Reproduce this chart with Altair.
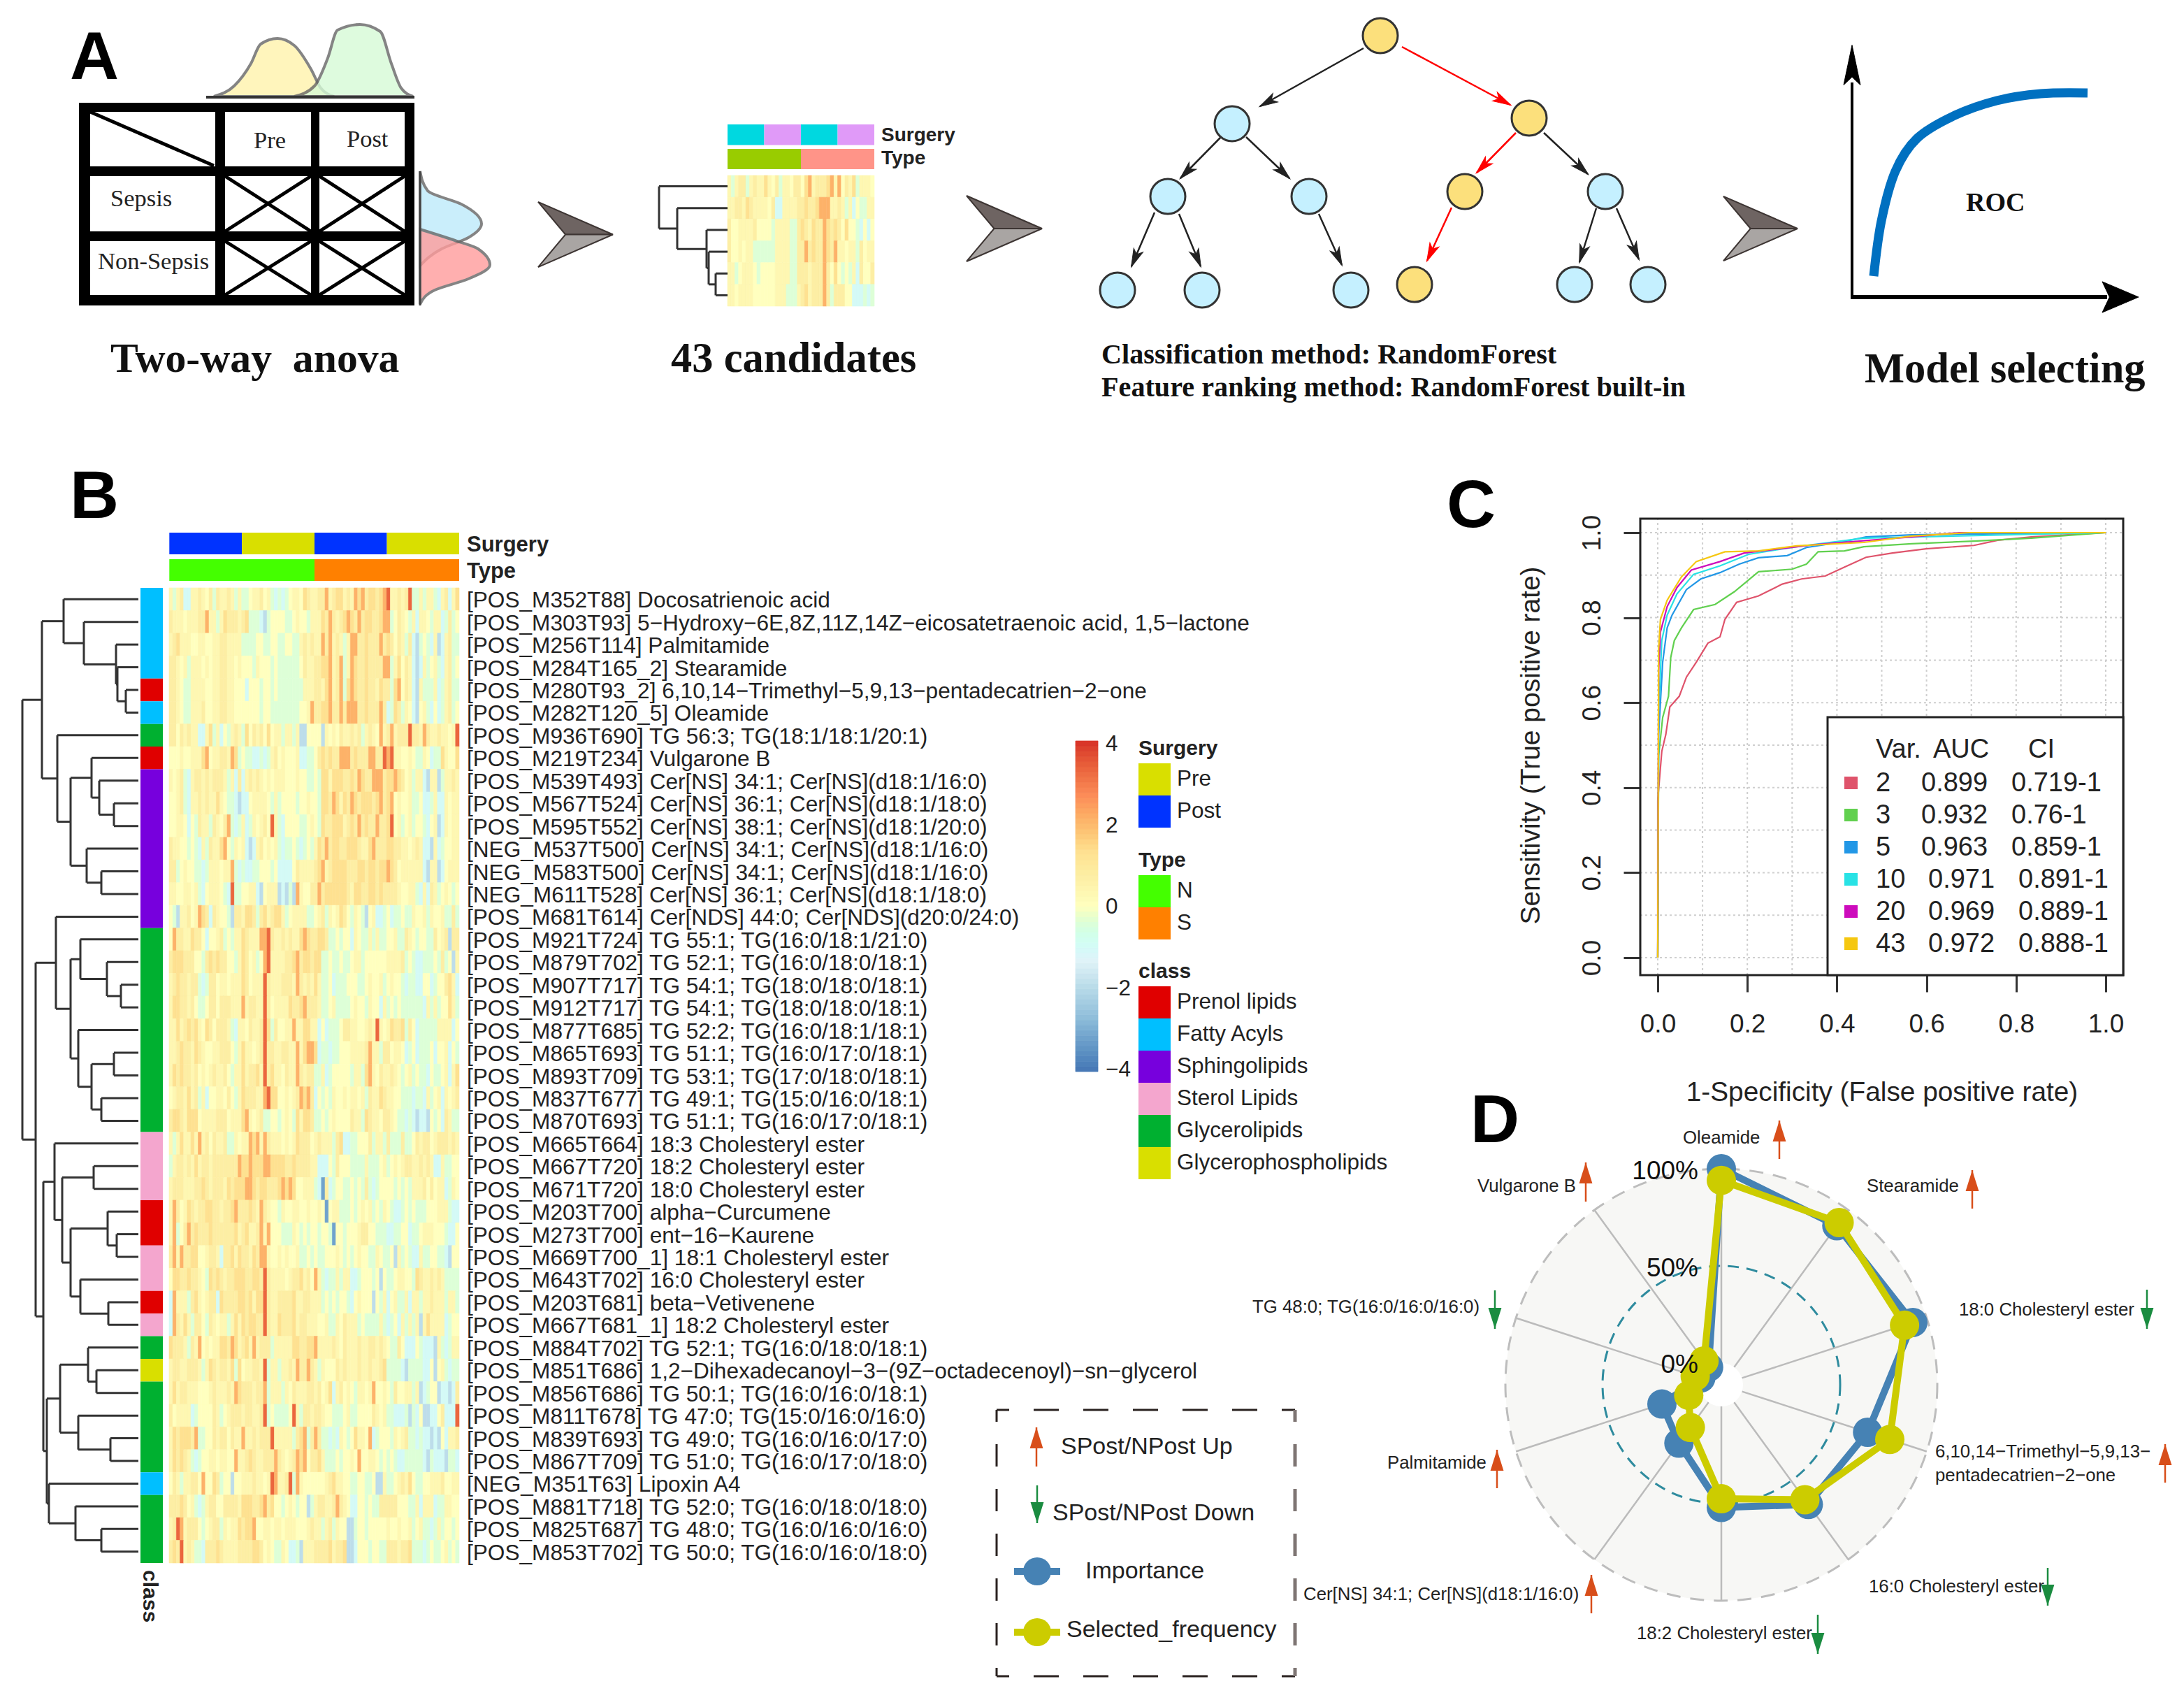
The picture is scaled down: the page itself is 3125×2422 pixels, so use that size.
import math
import altair as alt
import pandas as pd

SANS = "Liberation Sans"
SERIF = "Liberation Serif"
INK = "#222222"

# ---------- panel B data ----------
ROW_LABELS = [
 "[POS_M352T88] Docosatrienoic acid",
 "[POS_M303T93] 5−Hydroxy−6E,8Z,11Z,14Z−eicosatetraenoic acid, 1,5−lactone",
 "[POS_M256T114] Palmitamide",
 "[POS_M284T165_2] Stearamide",
 "[POS_M280T93_2] 6,10,14−Trimethyl−5,9,13−pentadecatrien−2−one",
 "[POS_M282T120_5] Oleamide",
 "[POS_M936T690] TG 56:3; TG(18:1/18:1/20:1)",
 "[POS_M219T234] Vulgarone B",
 "[POS_M539T493] Cer[NS] 34:1; Cer[NS](d18:1/16:0)",
 "[POS_M567T524] Cer[NS] 36:1; Cer[NS](d18:1/18:0)",
 "[POS_M595T552] Cer[NS] 38:1; Cer[NS](d18:1/20:0)",
 "[NEG_M537T500] Cer[NS] 34:1; Cer[NS](d18:1/16:0)",
 "[NEG_M583T500] Cer[NS] 34:1; Cer[NS](d18:1/16:0)",
 "[NEG_M611T528] Cer[NS] 36:1; Cer[NS](d18:1/18:0)",
 "[POS_M681T614] Cer[NDS] 44:0; Cer[NDS](d20:0/24:0)",
 "[POS_M921T724] TG 55:1; TG(16:0/18:1/21:0)",
 "[POS_M879T702] TG 52:1; TG(16:0/18:0/18:1)",
 "[POS_M907T717] TG 54:1; TG(18:0/18:0/18:1)",
 "[POS_M912T717] TG 54:1; TG(18:0/18:0/18:1)",
 "[POS_M877T685] TG 52:2; TG(16:0/18:1/18:1)",
 "[POS_M865T693] TG 51:1; TG(16:0/17:0/18:1)",
 "[POS_M893T709] TG 53:1; TG(17:0/18:0/18:1)",
 "[POS_M837T677] TG 49:1; TG(15:0/16:0/18:1)",
 "[POS_M870T693] TG 51:1; TG(16:0/17:0/18:1)",
 "[POS_M665T664] 18:3 Cholesteryl ester",
 "[POS_M667T720] 18:2 Cholesteryl ester",
 "[POS_M671T720] 18:0 Cholesteryl ester",
 "[POS_M203T700] alpha−Curcumene",
 "[POS_M273T700] ent−16−Kaurene",
 "[POS_M669T700_1] 18:1 Cholesteryl ester",
 "[POS_M643T702] 16:0 Cholesteryl ester",
 "[POS_M203T681] beta−Vetivenene",
 "[POS_M667T681_1] 18:2 Cholesteryl ester",
 "[POS_M884T702] TG 52:1; TG(16:0/18:0/18:1)",
 "[POS_M851T686] 1,2−Dihexadecanoyl−3−(9Z−octadecenoyl)−sn−glycerol",
 "[POS_M856T686] TG 50:1; TG(16:0/16:0/18:1)",
 "[POS_M811T678] TG 47:0; TG(15:0/16:0/16:0)",
 "[POS_M839T693] TG 49:0; TG(16:0/16:0/17:0)",
 "[POS_M867T709] TG 51:0; TG(16:0/17:0/18:0)",
 "[NEG_M351T63] Lipoxin A4",
 "[POS_M881T718] TG 52:0; TG(16:0/18:0/18:0)",
 "[POS_M825T687] TG 48:0; TG(16:0/16:0/16:0)",
 "[POS_M853T702] TG 50:0; TG(16:0/16:0/18:0)",
]
CLASS_NAMES = ["Prenol lipids", "Fatty Acyls", "Sphingolipids", "Sterol Lipids", "Glycerolipids", "Glycerophospholipids"]
CLASS_COLORS = ["#E00000", "#00BFFF", "#7700DD", "#F4A6CE", "#00B030", "#D9DF00"]
ROW_CLASS = [1,1,1,1,0,1,4,0,2,2,2,2,2,2,2,4,4,4,4,4,4,4,4,4,3,3,3,0,0,3,3,0,3,4,5,4,4,4,4,1,4,4,4]

# one digit per sample; HEAT_LEVEL gives the z value of a digit
HEAT_LEVEL = {"0": -3.2, "1": -1.9, "2": -1.0, "3": -0.4, "4": 0.0, "5": 0.35, "6": 0.75, "7": 1.3, "8": 2.1, "9": 3.3}
HEAT = [
 "5356225565 4636556535 3345564532 3234554765 5668567756 5878677678 9556569335 3553256257",
 "6555455566 8553576665 6733321344 4433454435 5576865678 7686776678 8346543525 5435523634",
 "5675554455 4455665555 3333443344 3344335656 5586856535 8866766686 7646536213 4325125633",
 "6654535554 5455665545 4443544434 3333334655 6677856835 8766766668 8357465212 5345325634",
 "6654335555 4455665544 4244434434 3333333555 6657856837 8766766576 6378465215 3335235633",
 "6654335556 4455665544 4444434433 3333334458 6677866868 8866766686 2376354214 5324235634",
 "6646565522 5735243565 3746564745 5355351144 4415454655 6563565485 6856669665 8655655459",
 "4445445557 8455665873 4332232356 4544452233 4676766888 6766688669 8955445433 5423375447",
 "5456325665 6566653526 2565654545 5544454433 4377577766 7687668886 7787645355 2155135565",
 "4456325565 6557543321 2245555435 3444434454 4377687576 8767776786 7845445334 2235225455",
 "4455424365 5365468323 5235456495 3244443345 4376677756 7686766866 7945345344 3245125455",
 "6554434325 3655784354 5212564545 3233432343 5768677667 7765578666 7766554565 2215234455",
 "6634544332 3555455832 3223344434 2222465555 6785677776 6677677677 8764555555 2155124555",
 "5544554532 4555432933 4455214555 1213185446 6867777776 5776677676 6665445532 5265345434",
 "4315564587 6265443166 5776367567 7534555533 4563545764 3543145223 4233433544 5354453363",
 "4866557664 2445634355 7655588965 5656557876 6776334344 2543353533 4453365434 4336456166",
 "6777666443 6767664435 7645348955 5566786776 7733433433 4553444444 5555634322 3334363415",
 "5676656632 3664554555 7645559655 5666586565 7533423334 4433454453 4544323322 4423446752",
 "5776656433 4664666555 8566559645 5557667866 6533453333 4544354425 3434333333 2535344753",
 "5575676754 7646665325 5465569736 4455855775 5242333466 5544565954 5766736423 3333555524",
 "5567665765 4455666435 7554569665 5665585788 7233233444 5555685536 6455423423 3342445243",
 "5767665645 4565564355 7566759675 5465586566 3352344444 3553785465 5654345343 3243345257",
 "4566575635 2445546435 7666558977 4454568786 2434354454 5545365576 5544333233 2534525456",
 "6776577745 5556664555 7854563344 3454375776 3343454444 6553765546 6543323212 2143426533",
 "5357557585 6465563354 5587858655 5454576664 5655536722 3344463553 6333633465 6645666565",
 "3566565756 6566666668 7787778877 7766766665 5222436444 3333533345 3454566556 5652253344",
 "5666555667 6566657677 7887677666 7878744555 3206234433 4343632344 4434343555 6464552354",
 "5864576566 7766566786 6676586544 3544554454 4540455333 4345453435 4322343433 3444555322",
 "5834686766 6766666675 6755685844 4333543434 4344304434 4456644333 2233442334 5554443224",
 "6858667744 5665266757 6657688544 5454453343 4334445434 3454433543 3415343225 3344332144",
 "4776676654 3767656677 7667769655 5545667564 8532335355 2234443414 3345544376 5565653333",
 "2855536754 5662766667 7675779655 6666755665 5534343443 2454441435 2453352553 5565553553",
 "2865753664 3654553575 7677669655 7666756655 5445335465 5534333353 2342535351 5755552344",
 "7666536584 5455776875 6758566635 5555776677 8555565465 5565566565 4336422243 2221532355",
 "5665566653 5765665737 4556659355 3556586686 5354446565 5565565567 3333213333 2241453233",
 "5756655544 4565556587 6665668355 5354655566 5645725645 4355458445 4364455351 2344122126",
 "6455552344 4465345666 5665569343 3334953665 6654433345 3344446545 3322231324 1122462229",
 "5767776833 4465664655 8556566695 5555367836 8633232543 4755482344 4354563323 2212142556",
 "5767653234 4554554485 5676556668 6545687846 6753334344 5484455434 3432233333 2132221332",
 "4653556648 4476344144 5556554598 5569385444 4445675544 3344334115 3345657433 4455564455",
 "6667645323 5664466665 7776678674 4345434413 5665568654 2244343366 6664443352 5552335544",
 "5698566643 4566354557 6778445545 5455544456 5535635441 1344344444 5445445345 3323534434",
 "6769565332 6667655556 6667764543 3542231555 6666756671 1244434433 6665667333 2343345343",
]
COLORBAR_TICKS = [4, 2, 0, -2, -4]
COLORBAR_LABELS = ["4", "2", "0", "−2", "−4"]

# ---------- panel A heat map data ----------
MINI_HEAT = [
 "5356635655 7546355466 4785666785 8465735554",
 "5566576555 5462255556 6766788855 6535243355",
 "6445555644 4435555336 7657668767 6474432424",
 "6445455333 3335555336 6867668768 5545536455",
 "5534555434 4445555336 6656668647 4343526446",
 "5545555444 4445553335 6756668636 6644222323",
]
MINI_SURGERY = ["#00D8E0", "#E09AF8", "#00D8E0", "#E09AF8"]
MINI_TYPE = ["#99CC00", "#FF9488"]

# ---------- panel C data ----------
ROC_SERIES = ["2", "3", "5", "10", "20", "43"]
ROC_COLORS = ["#DF536B", "#61D04F", "#2297E6", "#28E2E5", "#CD0BBC", "#F5C710"]
ROC_AUC = ["0.899", "0.932", "0.963", "0.971", "0.969", "0.972"]
ROC_CI = ["0.719-1", "0.76-1", "0.859-1", "0.891-1", "0.889-1", "0.888-1"]
ROC_X = [
 [0,0,.009,.018,.027,.048,.064,.086,.112,.139,.15,.176,.225,.278,.321,.374,.417,.465,.524,.599,.706,.759,.834,1],
 [0,.002,.011,.024,.029,.037,.053,.080,.128,.171,.225,.300,.332,.358,.417,.460,.567,.706,.834,1],
 [0,.002,.011,.021,.032,.064,.096,.139,.182,.225,.289,.332,.406,.465,.567,1],
 [0,.002,.009,.021,.043,.080,.139,.203,.31,.46,1],
 [0,.002,.006,.021,.043,.075,.139,.193,.353,.567,.674,1],
 [0,.002,.006,.021,.053,.086,.15,.225,.31,.46,.567,.695,1],
]
ROC_Y = [
 [0,.37,.485,.525,.59,.615,.66,.695,.74,.755,.796,.836,.851,.879,.891,.898,.919,.942,.952,.962,.97,.982,.99,1],
 [0,.475,.565,.615,.706,.746,.776,.819,.831,.861,.908,.914,.926,.955,.957,.967,.974,.98,.987,1],
 [0,.525,.695,.776,.806,.866,.891,.906,.926,.941,.946,.965,.977,.99,.995,1],
 [0,.575,.746,.806,.856,.902,.922,.949,.967,.987,1],
 [0,.675,.766,.826,.871,.912,.932,.952,.972,.99,1,1],
 [0,.726,.796,.841,.896,.932,.955,.957,.969,.977,.992,1,1],
]
GRID_STEPS = [0, .1, .2, .3, .4, .5, .6, .7, .8, .9, 1]

# ---------- panel D data ----------
RADAR_IMPORTANCE = [1.0, .90, .925, .68, .65, .52, .26, .21, .0, .0]
RADAR_FREQUENCY = [.94, .92, .88, .80, .62, .475, .16, .065, .03, .04]

# ---------- helpers ----------
PX = alt.Scale(domain=[8, 3117], range=[0, 3109], nice=False, zero=False)
PY = alt.Scale(domain=[8, 2414], range=[0, 2406], nice=False, zero=False)
X = alt.X("x:Q", scale=PX, axis=None)
Y = alt.Y("y:Q", scale=PY, axis=None)
layers = []

def segs(rows, **kw):
    df = pd.DataFrame(rows, columns=["x", "y", "x2", "y2", "c", "w"])
    layers.append(alt.Chart(df).mark_rule(**kw).encode(
        x=X, y=Y, x2="x2:Q", y2="y2:Q",
        color=alt.Color("c:N", scale=None), strokeWidth=alt.StrokeWidth("w:Q", scale=None)))

def rects(rows, **kw):
    df = pd.DataFrame(rows, columns=["x", "y", "x2", "y2", "c"])
    layers.append(alt.Chart(df).mark_rect(**kw).encode(
        x=X, y=Y, x2="x2:Q", y2="y2:Q", color=alt.Color("c:N", scale=None)))

def glyphs(rows):
    df = pd.DataFrame(rows, columns=["x", "y", "s", "f", "st", "sw", "sh", "a"])
    layers.append(alt.Chart(df).mark_point(filled=True, opacity=1).encode(
        x=X, y=Y, size=alt.Size("s:Q", scale=None),
        fill=alt.Fill("f:N", scale=None), stroke=alt.Stroke("st:N", scale=None),
        strokeWidth=alt.StrokeWidth("sw:Q", scale=None),
        shape=alt.Shape("sh:N", scale=None), angle=alt.Angle("a:Q", scale=None)))

def texts(rows, font=SANS, size=30, weight="normal", color=INK, align="left", baseline="alphabetic", **kw):
    df = pd.DataFrame(rows, columns=["t", "x", "y"])
    layers.append(alt.Chart(df).mark_text(font=font, fontSize=size, fontWeight=weight, color=color,
                                          align=align, baseline=baseline, **kw).encode(x=X, y=Y, text="t:N"))

def heat_scale():
    return alt.Scale(type="linear", domain=[-4, -2.67, -1.33, 0, 1.33, 2.67, 4],
                     range=["#4575B4", "#91BFDB", "#E0F3F8", "#FFFFBF", "#FEE090", "#FC8D59", "#D73027"])

def heat_layer(rows, x0, x1, y0, y1):
    cleaned = [r.replace(" ", "") for r in rows]
    ncol = max(len(r) for r in cleaned)
    recs = []
    for i, r in enumerate(cleaned):
        for j, ch in enumerate(r.ljust(ncol, "4")):
            recs.append({"r": i, "k": j, "v": HEAT_LEVEL[ch]})
    df = pd.DataFrame(recs)
    sx = alt.Scale(type="band", domain=list(range(ncol)), range=[x0 - 8, x1 - 8], paddingInner=0, paddingOuter=0)
    sy = alt.Scale(type="band", domain=list(range(len(rows))), range=[y0 - 8, y1 - 8], paddingInner=0, paddingOuter=0)
    layers.append(alt.Chart(df).mark_rect(strokeWidth=0.6).encode(
        x=alt.X("k:O", scale=sx, axis=None), y=alt.Y("r:O", scale=sy, axis=None),
        color=alt.Color("v:Q", scale=heat_scale(), legend=None),
        stroke=alt.Stroke("v:Q", scale=heat_scale(), legend=None)))

def dendro(tree, leaf_x, y0, y1, nrow, color="#333333", width=3):
    out = []
    def walk(n):
        if isinstance(n, int):
            return leaf_x, n + .5
        h, a, b = n
        xa, ya = walk(a)
        xb, yb = walk(b)
        out.extend([(h, ya, h, yb), (h, ya, xa, ya), (h, yb, xb, yb)])
        return h, (ya + yb) / 2
    walk(tree)
    df = pd.DataFrame(out, columns=["x", "y", "x2", "y2"])
    sy = alt.Scale(domain=[0, nrow], range=[y0 - 8, y1 - 8], nice=False, zero=False)
    layers.append(alt.Chart(df).mark_rule(color=color, strokeWidth=width).encode(
        x=X, x2="x2:Q", y=alt.Y("y:Q", scale=sy, axis=None), y2="y2:Q"))

def legend_rects(rows, domain, colors, title, lx, ly):
    df = pd.DataFrame(rows, columns=["x", "y", "x2", "y2", "g"])
    layers.append(alt.Chart(df).mark_rect().encode(
        x=X, y=Y, x2="x2:Q", y2="y2:Q",
        color=alt.Color("g:N", scale=alt.Scale(domain=domain, range=colors), legend=alt.Legend(
            title=title, orient="none", legendX=lx - 8, legendY=ly - 8, symbolType="square",
            symbolSize=2116, symbolStrokeWidth=0, symbolOpacity=1, labelFont=SANS, labelFontSize=31.5, labelColor=INK,
            labelOffset=9, rowPadding=0, titleFont=SANS, titleFontSize=30, titleFontWeight="bold",
            titleColor=INK, titlePadding=6, labelLimit=500, titleLimit=400))))

# ---------- panel A: table and densities ----------
DENS_TOP = [
 ("#FFF3AC", [306,335,359,373,397,421,445,459,478], [138,123,91,63,55,65,99,126,138]),
 ("#D6FBD6", [421,450,469,483,515,544,560,574,591], [138,123,83,43,35,45,91,126,138]),
]
for col, xs, ys in DENS_TOP:
    df = pd.DataFrame({"x": xs, "y": ys, "y2": [138] * len(xs)})
    layers.append(alt.Chart(df).mark_area(interpolate="monotone", fill=col, opacity=.8, stroke="#666666", strokeWidth=4).encode(
        x=X, y=Y, y2="y2:Q"))
DENS_RIGHT = [
 ("#BEEBFB", [245,273,292,320,340,356,380], [601,612,660,689,670,632,601]),
 ("#FF9C9C", [328,344,356,379,399,415,435], [601,651,684,701,670,622,601]),
]
for col, ys, xs in DENS_RIGHT:
    df = pd.DataFrame({"y": ys, "x": xs, "x2": [601] * len(xs)})
    layers.append(alt.Chart(df).mark_area(orient="horizontal", interpolate="monotone", fill=col, opacity=.8, stroke="#666666", strokeWidth=4).encode(
        x=X, x2="x2:Q", y=Y))

rects([
 (113,147,593,160,"#000000"), (113,422,593,437,"#000000"), (113,147,129,437,"#000000"), (579,147,593,437,"#000000"),
 (308,147,322,437,"#000000"), (445,147,457,437,"#000000"), (113,238,593,252,"#000000"), (113,331,593,345,"#000000"),
 (295,137,593,141,"#333333"),
])
TABLE_CELLS = [(322,252,445,331), (457,252,579,331), (322,345,445,422), (457,345,579,422)]
table_lines = [(129,160,306,237,"#000000",5)]
for a, b, c, d in TABLE_CELLS:
    table_lines += [(a,b,c,d,"#000000",5), (a,d,c,b,"#000000",5)]
table_lines.append((601,245,601,437,"#444444",3))
segs(table_lines)

# chevrons between the steps
CHEV_TOP = "M1,0 L-1,-0.87 L-0.27,0 Z"
CHEV_BOT = "M1,0 L-0.27,0 L-1,0.87 Z"
CHEVRONS = [(823.5, 335.5, 107), (1437, 327, 108), (2519, 327, 106)]
chev = []
for cx, cy, w in CHEVRONS:
    chev.append((cx, cy, w * w, "#6E6462", "#3D3533", 2, CHEV_TOP, 0))
    chev.append((cx, cy, w * w, "#A9A5A3", "#3D3533", 2, CHEV_BOT, 0))
glyphs(chev)

# mini heat map
heat_layer(MINI_HEAT, 1041, 1251, 251, 438)
rects([(1041 + 52.5 * i, 178, 1041 + 52.5 * (i + 1), 207.5, c) for i, c in enumerate(MINI_SURGERY)] +
      [(1041 + 105 * i, 213, 1041 + 105 * (i + 1), 242, c) for i, c in enumerate(MINI_TYPE)])
dendro((943, 0, (969, 1, (1011, 2, (1014, 3, (1024, 4, 5))))), 1041, 251, 438, 6, width=3)

# decision tree
BRANCHES = [
 ((1951,69),(1803,152),"#222222"), ((2006,67),(2161,150),"#FF0000"), ((1747,196),(1689,255),"#222222"),
 ((1783,196),(1845,255),"#222222"), ((2169,190),(2113,247),"#FF0000"), ((2209,190),(2272,249),"#222222"),
 ((1652,304),(1619,381),"#222222"), ((1687,306),(1718,381),"#222222"), ((1887,306),(1920,379),"#222222"),
 ((2077,297),(2042,373),"#FF0000"), ((2284,298),(2260,375),"#222222"), ((2313,298),(2345,371),"#222222"),
]
NODES_YELLOW = [(1975,51),(2188,169),(2096,274),(2024,407)]
NODES_BLUE = [(1763,177),(1671,281),(1873,281),(2297,274),(1599,415),(1720,415),(1933,415),(2253,407),(2358,407)]
segs([(a[0],a[1],b[0],b[1],c,2.5) for a,b,c in BRANCHES])
BARB = "M0,-1 L0.55,1 L0,0.5 L-0.55,1 Z"
heads = []
for a, b, c in BRANCHES:
    dx, dy = b[0]-a[0], b[1]-a[1]
    L = math.hypot(dx, dy)
    heads.append((b[0]-dx/L*12, b[1]-dy/L*12, 26*26, c, c, 1, BARB, math.degrees(math.atan2(dx, -dy)) % 360))
glyphs(heads)
glyphs([(x,y,2500,"#FCE07C","#333333",3,"circle",0) for x,y in NODES_YELLOW] +
       [(x,y,2500,"#C5F0FF","#333333",3,"circle",0) for x,y in NODES_BLUE])

# little ROC sketch
segs([(2650,118,2650,428,"#000000",4), (2648,425,3015,425,"#000000",6)])
glyphs([(2650,93,57*57,"#000000","#000000",1,"M0,-1 L0.42,1 L0,0.6 L-0.42,1 Z",0),
        (3034,425,52*52,"#000000","#000000",1,"M0,-1 L0.85,1 L0,0.6 L-0.85,1 Z",90)])
SK_X = [2681,2692,2712,2743,2795,2857,2920,2987]
SK_Y = [395,316,245,198,166,144,134,133]
layers.append(alt.Chart(pd.DataFrame({"x": SK_X, "y": SK_Y})).mark_line(interpolate="cardinal", color="#0070C0", strokeWidth=13).encode(x=X, y=Y))

# ---------- panel B ----------
heat_layer(HEAT, 242, 657, 841, 2236)

# colour bar, drawn with the same colour scale as the heat map
bar_low = [i / 8 for i in range(-32, 32)]
bar_df = pd.DataFrame({"low": bar_low, "high": [v + .125 for v in bar_low], "mid": [v + .0625 for v in bar_low],
                       "x": [1539] * 64, "x2": [1571] * 64})
layers.append(alt.Chart(bar_df).mark_rect(strokeWidth=0.8).encode(
    x=X, x2="x2:Q",
    y=alt.Y("low:Q", scale=alt.Scale(domain=[-4, 4], range=[1525, 1052], nice=False, zero=False), axis=None),
    y2="high:Q",
    color=alt.Color("mid:Q", scale=heat_scale(), legend=None),
    stroke=alt.Stroke("mid:Q", scale=heat_scale(), legend=None)))
bar_tick_df = pd.DataFrame({"t": COLORBAR_LABELS, "v": COLORBAR_TICKS, "x": [1582] * 5})
layers.append(alt.Chart(bar_tick_df).mark_text(font=SANS, fontSize=31.5, color=INK, align="left", baseline="middle").encode(
    x=X, y=alt.Y("v:Q", scale=alt.Scale(domain=[-4, 4], range=[1523, 1057], nice=False, zero=False), axis=None), text="t:N"))

SURG_EDGE = [242.3, 346, 450, 553.6, 657]
SURG_GROUP = ["Post", "Pre", "Post", "Pre"]
legend_rects([(SURG_EDGE[i], 762, SURG_EDGE[i+1], 793, g) for i, g in enumerate(SURG_GROUP)],
             ["Pre", "Post"], ["#D9DF00", "#0033FF"], "Surgery", 1629, 1056)
legend_rects([(242.3, 800, 450, 831, "N"), (450, 800, 657, 831, "S")],
             ["N", "S"], ["#44FF00", "#FF8000"], "Type", 1629, 1216)
ROW_H = (2236 - 841) / 43
class_rows = []
start = 0
for i in range(1, 44):
    if i == 43 or ROW_CLASS[i] != ROW_CLASS[start]:
        class_rows.append((201, 841 + start * ROW_H, 233, 841 + i * ROW_H, CLASS_NAMES[ROW_CLASS[start]]))
        start = i
legend_rects(class_rows, CLASS_NAMES, CLASS_COLORS, "class", 1629, 1375)

def n(h, a, b):
    return (h, a, b)
TREE_B = n(32,
  n(60, n(91, 0, n(120, 1, n(166, 2, n(168, 3, n(180, 4, 5))))),
        n(82, 6, n(101, n(131, 7, n(142, 8, n(163, 9, 10))), n(124, 11, n(145, 12, 13))))),
  n(51, n(80, 14, n(101, n(115, 15, n(153, 16, n(173, 17, 18))),
                          n(112, 19, n(131, n(163, 20, 21), n(145, 22, 23))))),
        n(62, n(78, 24, n(89, n(134, 25, 26),
                              n(101, n(154, 27, n(167, 28, 29)), n(115, 30, n(155, 31, 32))))),
              n(67, n(86, n(126, 33, n(138, 34, 35)), n(112, 36, n(158, 37, 38))),
                    n(70, 39, n(108, 40, n(145, 41, 42)))))))
dendro(TREE_B, 198, 841, 2236, 43, width=3)

row_df = pd.DataFrame({"t": ROW_LABELS, "x": [668] * 43, "y": [i + .5 for i in range(43)]})
layers.append(alt.Chart(row_df).mark_text(font=SANS, fontSize=31.6, color=INK, align="left", baseline="middle").encode(
    x=X, y=alt.Y("y:Q", scale=alt.Scale(domain=[0, 43], range=[836, 2231], nice=False, zero=False), axis=None), text="t:N"))

# ---------- panel C ----------
CX = alt.Scale(domain=[0, 1], range=[2364, 3005], nice=False, zero=False)
CY = alt.Scale(domain=[0, 1], range=[1362, 754], nice=False, zero=False)
rects([(2347, 742, 3038, 1395, "#FFFFFF")])
grid_v = pd.DataFrame({"x": GRID_STEPS, "y": [-.041] * 11, "y2": [1.033] * 11})
grid_h = pd.DataFrame({"y": GRID_STEPS, "x": [-.039] * 11, "x2": [1.039] * 11})
gcx = alt.X("x:Q", scale=CX, axis=None)
gcy = alt.Y("y:Q", scale=CY, axis=None)
layers.append(alt.Chart(grid_v).mark_rule(color="#CFCFCF", strokeWidth=2, strokeDash=[3, 4]).encode(x=gcx, y=gcy, y2="y2:Q"))
layers.append(alt.Chart(grid_h).mark_rule(color="#CFCFCF", strokeWidth=2, strokeDash=[3, 4]).encode(x=gcx, x2="x2:Q", y=gcy))
roc_rows = []
for name, xs, ys in zip(ROC_SERIES, ROC_X, ROC_Y):
    for i, (a, b) in enumerate(zip(xs, ys)):
        roc_rows.append({"fpr": a, "tpr": b, "series": name, "i": i})
layers.append(alt.Chart(pd.DataFrame(roc_rows)).mark_line(strokeWidth=2.2).encode(
    x=alt.X("fpr:Q", scale=CX, axis=alt.Axis(
        values=[0, .2, .4, .6, .8, 1], format=".1f", domain=False, grid=False, offset=1387 - 2406, labelFlush=False,
        tickSize=24, tickWidth=3, tickColor="#333333", labelFont=SANS, labelFontSize=37, labelColor=INK, labelPadding=28,
        title="1-Specificity (False positive rate)", titleFont=SANS, titleFontSize=38.8, titleFontWeight="normal",
        titleColor=INK, titlePadding=60)),
    y=alt.Y("tpr:Q", scale=CY, axis=alt.Axis(
        values=[0, .2, .4, .6, .8, 1], format=".1f", domain=False, grid=False, offset=-2339, labelFlush=False,
        tickSize=24, tickWidth=3, tickColor="#333333", labelFont=SANS, labelFontSize=37, labelColor=INK, labelPadding=26,
        labelAngle=270, labelAlign="center", labelBaseline="bottom",
        title="Sensitivity (True positive rate)", titleFont=SANS, titleFontSize=39, titleFontWeight="normal",
        titleColor=INK, titlePadding=49)),
    color=alt.Color("series:N", scale=alt.Scale(domain=ROC_SERIES, range=ROC_COLORS), legend=None),
    order="i:Q", detail="series:N"))
layers.append(alt.Chart(pd.DataFrame([(2347, 742, 3038, 1395)], columns=["x", "y", "x2", "y2"])).mark_rect(
    fill="transparent", stroke="#222222", strokeWidth=3).encode(x=X, y=Y, x2="x2:Q", y2="y2:Q"))
layers.append(alt.Chart(pd.DataFrame([(2615, 1026, 3038, 1395)], columns=["x", "y", "x2", "y2"])).mark_rect(
    fill="#FFFFFF", stroke="#222222", strokeWidth=3).encode(x=X, y=Y, x2="x2:Q", y2="y2:Q"))
ROW0 = 1120
PITCH = 46
rects([(2639, ROW0 + i * PITCH - 9, 2658, ROW0 + i * PITCH + 9, c) for i, c in enumerate(ROC_COLORS)])
col_rows = [("Var.", 2684, 1073), ("AUC", 2766, 1073), ("CI", 2902, 1073)]
for i in range(6):
    shift = 10 if i >= 3 else 0
    yy = ROW0 + i * PITCH + 1
    col_rows += [(ROC_SERIES[i], 2684, yy), (ROC_AUC[i], 2749 + shift, yy), (ROC_CI[i], 2878 + shift, yy)]
texts(col_rows, size=38, baseline="middle")

# ---------- panel D ----------
RC = (2463, 1981)
def polar(k, v):
    t = math.radians(36 * k)
    r = 31 + 278 * v
    return RC[0] + r * math.sin(t), RC[1] - r * math.cos(t)

glyphs([(RC[0], RC[1], 618 * 618, "#F7F7F5", "#F7F7F5", 0, "circle", 0)])
layers.append(alt.Chart(pd.DataFrame({"x": [RC[0]], "y": [RC[1]]})).mark_point(
    shape="circle", size=618 * 618, stroke="#BDBDBD", strokeWidth=3, strokeDash=[20, 14], opacity=1).encode(x=X, y=Y))
layers.append(alt.Chart(pd.DataFrame({"x": [RC[0]], "y": [RC[1]]})).mark_point(
    shape="circle", size=340 * 340, stroke="#2E8B9E", strokeWidth=3, strokeDash=[16, 11], opacity=1).encode(x=X, y=Y))
segs([(*polar(k, 0), *polar(k, 1), "#BBBBBB", 2.5) for k in range(10)])
glyphs([(RC[0], RC[1], 62 * 62, "#FFFFFF", "#FFFFFF", 0, "circle", 0)])
for vals, col in ((RADAR_IMPORTANCE, "#4682B4"), (RADAR_FREQUENCY, "#CCCC00")):
    line = [polar(k, vals[k]) for k in list(range(10)) + [0]]
    df = pd.DataFrame({"x": [p[0] for p in line], "y": [p[1] for p in line], "i": list(range(11))})
    layers.append(alt.Chart(df).mark_line(color=col, strokeWidth=10).encode(x=X, y=Y, order="i:Q"))
    glyphs([(p[0], p[1], 42 * 42, col, col, 0, "circle", 0) for p in line[:-1]])

texts([("100%", 2430, 1687), ("50%", 2430, 1826), ("0%", 2430, 1964)], size=37, align="right", color="#111111")

RADAR_LABELS = [
 ("Oleamide", 2408, 1636), ("Vulgarone B", 2114, 1705), ("Stearamide", 2671, 1705),
 ("TG 48:0; TG(16:0/16:0/16:0)", 1792, 1878), ("18:0 Cholesteryl ester", 2803, 1882),
 ("6,10,14−Trimethyl−5,9,13−", 2769, 2085), ("pentadecatrien−2−one", 2769, 2119),
 ("Palmitamide", 1985, 2101), ("16:0 Cholesteryl ester", 2674, 2278),
 ("Cer[NS] 34:1; Cer[NS](d18:1/16:0)", 1865, 2289), ("18:2 Cholesteryl ester", 2342, 2345),
]
texts(RADAR_LABELS, size=25.8)

UP, DOWN = "#D84E1A", "#1A8C40"
UP_ARROWS = [(2546,1603,1658), (2269,1663,1719), (2822,1674,1729), (3098,2066,2121), (2142,2074,2129), (2277,2253,2308), (1483,2042,2098)]
DOWN_ARROWS = [(2139,1846,1901), (3072,1845,1901), (2930,2243,2297), (2601,2310,2366), (1484,2125,2179)]
HEAD_UP = "M0,-1 L0.63,1 L-0.63,1 Z"
HEAD_DOWN = "M0,1 L0.63,-1 L-0.63,-1 Z"
segs([(x, a, x, b, UP, 2.5) for x, a, b in UP_ARROWS] + [(x, a, x, b, DOWN, 2.5) for x, a, b in DOWN_ARROWS])
glyphs([(x, a + 15, 900, UP, UP, 0, HEAD_UP, 0) for x, a, b in UP_ARROWS] +
       [(x, b - 15, 900, DOWN, DOWN, 0, HEAD_DOWN, 0) for x, a, b in DOWN_ARROWS])

# dashed key box
for rows, dash, off in (
    ([(1426, 2017, 1853, 2017, "#2A2220", 3), (1426, 2398, 1853, 2398, "#2A2220", 3)], [36, 35], 18),
    ([(1426, 2017, 1426, 2398, "#2A2220", 3), (1853, 2017, 1853, 2398, "#7E7573", 5)], [32, 32], 15),
):
    segs(rows, strokeDash=dash, strokeDashOffset=off)
segs([(1451, 2248, 1517, 2248, "#4682B4", 10), (1451, 2335, 1517, 2335, "#CCCC00", 10)])
glyphs([(1484, 2248, 1600, "#4682B4", "#4682B4", 0, "circle", 0), (1484, 2335, 1600, "#CCCC00", "#CCCC00", 0, "circle", 0)])
texts([("SPost/NPost Up", 1518, 2080), ("SPost/NPost Down", 1506, 2175), ("Importance", 1553, 2258), ("Selected_frequency", 1526, 2342)], size=34)

# ---------- all remaining text ----------
texts([("A", 100, 113), ("B", 100, 741), ("C", 2070, 754), ("D", 2104, 1634)], size=97, weight="bold", color="#000000")
texts([("Two-way\u00a0 anova", 158, 532)], font=SERIF, size=59.7, weight="bold", color="#111111")
texts([("43 candidates", 960, 532), ("Model selecting", 2668, 547)], font=SERIF, size=60.5, weight="bold", color="#111111")
texts([("Classification method: RandomForest", 1576, 520), ("Feature ranking method: RandomForest built-in", 1576, 567)], font=SERIF, size=40.2, weight="bold", color="#111111")
texts([("ROC", 2813, 302)], font=SERIF, size=38, weight="bold", color="#111111")
texts([("Pre", 363, 212), ("Post", 496, 210), ("Sepsis", 158, 295), ("Non-Sepsis", 140, 385)], font=SERIF, size=34.5, color="#222222")
texts([("Surgery", 1261, 202), ("Type", 1261, 235)], size=28, weight="bold")
texts([("Surgery", 668, 789), ("Type", 668, 827)], size=31, weight="bold")
texts([("class", 214, 2246)], size=30, weight="bold", angle=90, baseline="middle")

chart = alt.layer(*layers).resolve_scale(x="independent", y="independent", color="independent", stroke="independent").properties(
    width=3109, height=2406, padding=0, autosize=alt.AutoSizeParams(type="none"), background="#FFFFFF"
).configure_view(stroke=None)

chart.save("out.html", embed_options={"renderer": "svg", "actions": False})
